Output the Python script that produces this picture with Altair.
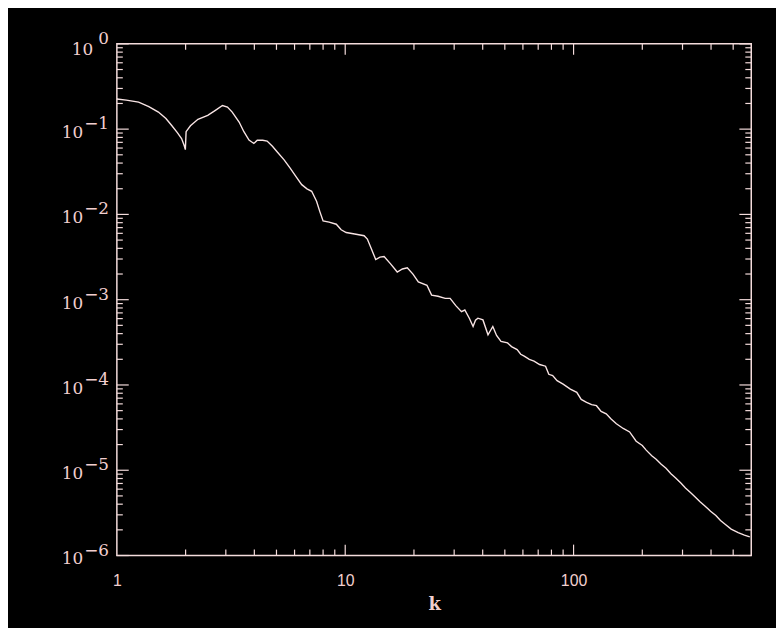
import altair as alt
import pandas as pd

# ---- data (k, log10 of spectrum) ----
k_vals = [1.0, 1.1, 1.245, 1.38, 1.52, 1.64, 1.735, 1.84, 1.92, 1.97, 1.995, 2.01, 2.1, 2.265,
          2.5, 2.7, 2.9, 3.05, 3.2, 3.43, 3.6, 3.79, 3.98, 4.12, 4.35, 4.55, 4.8, 5.03, 5.4,
          5.74, 6.1, 6.45, 6.8, 7.13, 7.49, 7.75, 8.0, 8.5, 9.14, 9.6, 10.1, 11.0, 12.1, 12.5,
          13.0, 13.6, 14.2, 14.8, 15.8, 16.9, 17.8, 18.7, 19.8, 20.9, 22.8, 23.9, 25.5, 27.4,
          28.8, 30.5, 32.3, 33.4, 35.0, 36.3, 37.2, 38.1, 40.1, 42.2, 44.3, 46.0, 48.1, 51.4,
          53.5, 56.6, 58.7, 60.8, 64.0, 67.1, 71.0, 75.4, 77.9, 81.0, 84.7, 90.0, 96.8, 103.3,
          108.0, 114.0, 120.0, 126.0, 132.0, 139.0, 146.0, 154.0, 165.0, 176.0, 188.0, 200.0,
          208.0, 220.0, 230.0, 242.0, 254.0, 267.0, 280.0, 295.0, 309.0, 325.0, 340.0, 358.0,
          377.0, 398.0, 420.0, 440.0, 461.0, 490.0, 526.0, 560.0, 591.0]
log_p = [-0.646, -0.660, -0.684, -0.735, -0.800, -0.875, -0.955, -1.040, -1.110, -1.190, -1.240,
         -1.030, -0.960, -0.885, -0.839, -0.780, -0.723, -0.742, -0.800, -0.917, -1.030, -1.129,
         -1.168, -1.129, -1.130, -1.140, -1.200, -1.265, -1.360, -1.458, -1.560, -1.651, -1.700,
         -1.729, -1.845, -1.970, -2.077, -2.090, -2.115, -2.180, -2.212, -2.230, -2.250, -2.289,
         -2.400, -2.529, -2.500, -2.494, -2.580, -2.676, -2.640, -2.625, -2.700, -2.792, -2.831,
         -2.947, -2.960, -2.985, -2.985, -3.070, -3.140, -3.121, -3.220, -3.314, -3.240, -3.217,
         -3.237, -3.411, -3.314, -3.420, -3.488, -3.507,
         -3.550, -3.585, -3.640, -3.662, -3.700, -3.720, -3.760, -3.780, -3.875, -3.890, -3.950,
         -3.990, -4.049, -4.087, -4.170, -4.203, -4.230, -4.243, -4.310, -4.339, -4.400, -4.455,
         -4.510, -4.551, -4.660, -4.710, -4.764, -4.830, -4.870, -4.930, -4.977, -5.040, -5.090,
         -5.150, -5.209, -5.260, -5.310, -5.370, -5.421, -5.480, -5.530, -5.590, -5.634, -5.690,
         -5.731, -5.760, -5.781]

x_label_vals = [1, 10, 100]
x_major = [10, 100]
x_minor = [2, 3, 4, 5, 6, 7, 8, 9, 20, 30, 40, 50, 60, 70, 80, 90, 200, 300, 400, 500]
y_major = [1.0, 1e-1, 1e-2, 1e-3, 1e-4, 1e-5, 1e-6]
y_exponents = ["0", "\u22121", "\u22122", "\u22123", "\u22124", "\u22125", "\u22126"]
y_minor = [m * 10.0 ** e for e in range(-6, 0) for m in range(2, 10)]

W, H = 641, 517
LINE = "#f8e4e4"
FRAME = "#f4dcdc"
TEXT = "#f2cfcf"

df = pd.DataFrame({"k": k_vals, "P": [10.0 ** v for v in log_p]})
xs = alt.Scale(type="log", domain=[1, 600], nice=False)
ys = alt.Scale(type="log", domain=[1e-6, 1], nice=False)

line = alt.Chart(df).mark_line(color=LINE, strokeWidth=1.4, clip=True).encode(
    x=alt.X("k:Q", scale=xs, axis=alt.Axis(
        values=x_label_vals, format="d", ticks=False, domain=False, grid=False,
        labelColor=TEXT, labelFont="Liberation Sans", labelFontSize=16, labelPadding=17,
        labelFlush=False, title="k", titleColor=TEXT, titleFont="DejaVu Serif",
        titleFontSize=18, titleFontWeight="bold", titlePadding=8)),
    y=alt.Y("P:Q", scale=ys, axis=None),
)


def xticks(vals, y1, y2):
    return alt.Chart(pd.DataFrame({"v": vals})).mark_rule(color=FRAME, strokeWidth=1.2).encode(
        x=alt.X("v:Q", scale=xs, axis=None), y=alt.value(y1), y2=alt.value(y2))


def yticks(vals, x1, x2):
    return alt.Chart(pd.DataFrame({"v": vals})).mark_rule(color=FRAME, strokeWidth=1.2).encode(
        y=alt.Y("v:Q", scale=ys, axis=None), x=alt.value(x1), x2=alt.value(x2))


ticks = [
    xticks(x_major, H, H - 11), xticks(x_minor, H, H - 6),
    xticks(x_major, 0, 11), xticks(x_minor, 0, 6),
    yticks(y_major, 0, 12), yticks(y_minor, 0, 6),
    yticks(y_major, W, W - 12), yticks(y_minor, W, W - 6),
]

ylab = pd.DataFrame({"v": y_major, "exp": y_exponents})
exp_text = alt.Chart(ylab).mark_text(
    align="right", baseline="middle", font="DejaVu Serif", fontSize=17, color=TEXT, dy=-5
).encode(y=alt.Y("v:Q", scale=ys, axis=None), x=alt.value(-8), text="exp:N")
base0 = alt.Chart(ylab).transform_filter("datum.v >= 1").mark_text(
    align="right", baseline="middle", font="DejaVu Serif", fontSize=17, color=TEXT, dy=6
).encode(y=alt.Y("v:Q", scale=ys, axis=None), x=alt.value(-24), text=alt.value("10"))
base_n = alt.Chart(ylab).transform_filter("datum.v < 1").mark_text(
    align="right", baseline="middle", font="DejaVu Serif", fontSize=17, color=TEXT, dy=4
).encode(y=alt.Y("v:Q", scale=ys, axis=None), x=alt.value(-34), text=alt.value("10"))

chart = alt.layer(line, *ticks, exp_text, base0, base_n).resolve_axis(
    x="independent", y="independent"
).properties(
    width=W, height=H,
    padding={"left": 110, "top": 33, "right": 25, "bottom": 70},
    autosize=alt.AutoSizeParams(type="none"),
).configure(background="black").configure_view(stroke=FRAME, strokeWidth=1.5)

chart.save("out.html", embed_options={"renderer": "svg", "actions": False})
